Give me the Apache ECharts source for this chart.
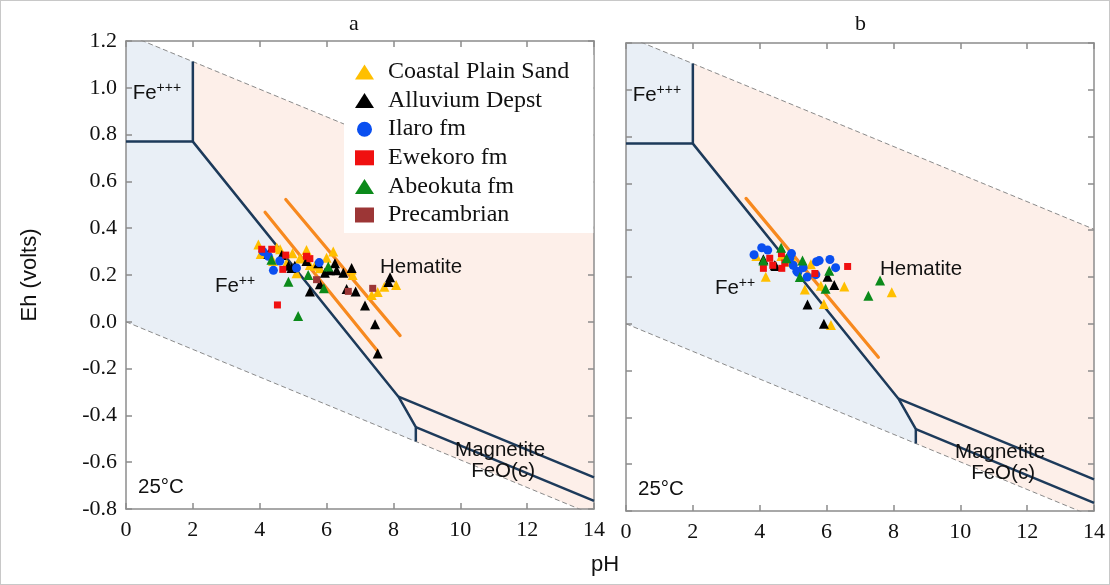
<!DOCTYPE html>
<html>
<head>
<meta charset="utf-8">
<title>Eh-pH diagram</title>
<script src="https://cdn.jsdelivr.net/npm/echarts@6/dist/echarts.min.js"></script>
<style>
  html, body { margin: 0; padding: 0; background: #fff; }
  #chart { width: 1110px; height: 585px; }
  #frame { position: absolute; left: 0; top: 0; width: 1108px; height: 583px; border: 1px solid #c8c8c8; pointer-events: none; }
</style>
</head>
<body>
<div id="chart"></div>
<div id="frame"></div>
<script>
// axis ticks
const phTicks = [0, 2, 4, 6, 8, 10, 12, 14];
const ehTicks = [-0.8, -0.6, -0.4, -0.2, 0.0, 0.2, 0.4, 0.6, 0.8, 1.0, 1.2];

// stability field boundaries [pH, Eh]
const waterUpper = [[0, 1.23], [14, 0.404]];
const waterLower = [[0, 0], [14, -0.826]];
const fe3Boundary = [[0, 0.77], [2, 0.77], [2, 1.112]];
const fe2Boundary = [[2, 0.77], [8.15, -0.32], [8.67, -0.45], [8.67, -0.512]];
const magnetiteUpper = [[8.15, -0.32], [14, -0.665]];
const magnetiteLower = [[8.67, -0.45], [14, -0.765]];

// shaded fields
const fe3Field = [[0, 0.77], [2, 0.77], [2, 1.112], [0.51, 1.2], [0, 1.2]];
const fe2Field = [[0, 0.77], [2, 0.77], [8.15, -0.32], [8.67, -0.45], [8.67, -0.512], [0, 0]];
const hematiteField = [[2, 1.112], [14, 0.404], [14, -0.665], [8.15, -0.32], [2, 0.77]];
const magnetiteField = [[8.15, -0.32], [14, -0.665], [14, -0.8], [13.56, -0.8], [8.67, -0.512], [8.67, -0.45]];

// orange trend lines
const trendA1 = [[4.16, 0.468], [7.52, -0.124]];
const trendA2 = [[4.78, 0.523], [8.2, -0.059]];
const trendB = [[3.59, 0.536], [7.55, -0.143]];

// panel a samples [pH, Eh]
const coastalA = [[3.96, 0.33], [4.03, 0.29], [4.4, 0.26], [4.51, 0.317], [4.61, 0.31], [4.8, 0.25], [4.98, 0.293],
  [5.1, 0.207], [5.2, 0.27], [5.4, 0.307], [5.5, 0.243], [5.65, 0.24], [5.8, 0.229], [6.0, 0.274], [6.2, 0.3],
  [6.75, 0.224], [6.78, 0.2], [7.35, 0.115], [7.53, 0.127], [7.73, 0.15], [8.08, 0.157]];
const alluviumA = [[4.26, 0.29], [4.66, 0.285], [4.86, 0.24], [4.95, 0.23], [5.05, 0.24], [5.4, 0.26], [5.5, 0.13],
  [5.75, 0.25], [5.8, 0.16], [5.95, 0.21], [6.1, 0.22], [6.25, 0.25], [6.3, 0.22], [6.5, 0.21], [6.75, 0.23],
  [6.6, 0.14], [6.87, 0.13], [7.15, 0.07], [7.45, -0.01], [7.53, -0.135], [7.85, 0.17], [7.9, 0.19]];
const ilaroA = [[4.1, 0.3], [4.26, 0.28], [4.41, 0.22], [4.6, 0.26], [5.1, 0.23], [5.78, 0.253]];
const ewekoroA = [[4.06, 0.31], [4.36, 0.31], [4.69, 0.224], [4.78, 0.285], [5.4, 0.28], [5.5, 0.27], [4.53, 0.072]];
const abeokutaA = [[4.35, 0.265], [4.86, 0.171], [5.15, 0.025], [5.45, 0.2], [5.92, 0.143], [6.05, 0.236]];
const precambrianA = [[5.7, 0.18], [6.65, 0.13], [7.38, 0.143]];

// panel b samples [pH, Eh]
const coastalB = [[3.9, 0.29], [4.18, 0.201], [4.65, 0.29], [4.8, 0.265], [4.9, 0.29], [5.0, 0.27], [5.35, 0.147],
  [5.53, 0.254], [5.83, 0.163], [5.92, 0.085], [6.13, -0.005], [6.53, 0.159], [7.95, 0.135]];
const alluviumB = [[4.11, 0.276], [4.45, 0.25], [4.48, 0.247], [5.43, 0.083], [5.92, 0.0], [6.03, 0.201], [6.23, 0.166]];
const ilaroB = [[3.83, 0.295], [4.06, 0.325], [4.24, 0.315], [4.9, 0.28], [4.95, 0.3], [5.0, 0.25], [5.11, 0.225],
  [5.14, 0.22], [5.3, 0.24], [5.42, 0.2], [5.68, 0.21], [5.7, 0.265], [5.78, 0.27], [6.1, 0.275], [6.27, 0.24]];
const ewekoroB = [[4.11, 0.237], [4.3, 0.28], [4.39, 0.25], [4.66, 0.237], [4.65, 0.3], [4.75, 0.26], [5.65, 0.215], [6.63, 0.245]];
const abeokutaB = [[4.11, 0.27], [4.64, 0.325], [4.8, 0.28], [5.2, 0.2], [5.28, 0.27], [5.97, 0.15], [6.08, 0.227], [7.25, 0.12], [7.6, 0.185]];
const precambrianB = [];

// field labels (same place in both panels)
const fieldLabels = [
  { text: '{b|Fe}{s|+++}', ph: 0.2, eh: 0.975, align: 'left' },
  { text: '{b|Fe}{s|++}', ph: 2.66, eh: 0.15, align: 'left' },
  { text: '{b|Hematite}', ph: 7.6, eh: 0.234, align: 'left' },
  { text: '{b|Magnetite}', ph: 11.19, eh: -0.548, align: 'center' },
  { text: '{b|FeO(c)}', ph: 11.28, eh: -0.638, align: 'center' },
  { text: '{b|25°C}', ph: 0.36, eh: -0.706, align: 'left' }
];

const SERIF = "'Liberation Serif', 'Times New Roman', serif";
const SANS = "'Liberation Sans', Arial, sans-serif";
const BLUE_FIELD = '#e9eff6';
const PEACH_FIELD = '#fdefe9';
const EDGE = '#1d3a5a';
const ORANGE = '#f7891f';

const groups = [
  { name: 'Coastal Plain Sand', symbol: 'triangle', size: 10, color: '#ffbf00', a: coastalA, b: coastalB },
  { name: 'Alluvium Depst', symbol: 'triangle', size: 10, color: '#000000', a: alluviumA, b: alluviumB },
  { name: 'Ilaro fm', symbol: 'circle', size: 9, color: '#0a4ff0', a: ilaroA, b: ilaroB },
  { name: 'Ewekoro fm', symbol: 'rect', size: 7, color: '#f01010', a: ewekoroA, b: ewekoroB },
  { name: 'Abeokuta fm', symbol: 'triangle', size: 10, color: '#0b8a1a', a: abeokutaA, b: abeokutaB },
  { name: 'Precambrian', symbol: 'rect', size: 7, color: '#9c3636', a: precambrianA, b: precambrianB }
];

function fieldSeries(points, color, g) {
  return {
    type: 'custom', xAxisIndex: g, yAxisIndex: g, data: [0], silent: true, z: 0, clip: true,
    renderItem: (params, api) => ({
      type: 'polygon',
      shape: { points: points.map(p => api.coord(p)) },
      style: { fill: color }
    })
  };
}

function lineSeries(points, g, style, z) {
  return {
    type: 'line', xAxisIndex: g, yAxisIndex: g, data: points, symbol: 'none',
    silent: true, clip: true, z: z, lineStyle: style
  };
}

function labelSeries(g) {
  return {
    type: 'custom', xAxisIndex: g, yAxisIndex: g, silent: true, z: 6,
    data: fieldLabels.map((l, i) => [l.ph, l.eh, i]),
    renderItem: (params, api) => {
      const l = fieldLabels[params.dataIndex];
      const pt = api.coord([api.value(0), api.value(1)]);
      return {
        type: 'text', x: pt[0], y: pt[1],
        style: {
          text: l.text, align: l.align, verticalAlign: 'middle', fill: '#111',
          rich: {
            b: { fontFamily: SANS, fontSize: 20.5, lineHeight: 26, color: '#111' },
            s: { fontFamily: SANS, fontSize: 14, lineHeight: 11, verticalAlign: 'top', color: '#111' }
          }
        }
      };
    }
  };
}

function panelSeries(g) {
  const dashed = { color: '#8a8a8a', width: 1, type: [5, 3] };
  const edge = { color: EDGE, width: 2.5 };
  const list = [
    fieldSeries(fe3Field, BLUE_FIELD, g),
    fieldSeries(fe2Field, BLUE_FIELD, g),
    fieldSeries(hematiteField, PEACH_FIELD, g),
    fieldSeries(magnetiteField, PEACH_FIELD, g),
    lineSeries(waterUpper, g, dashed, 1),
    lineSeries(waterLower, g, dashed, 1),
    lineSeries(fe3Boundary, g, edge, 2),
    lineSeries(fe2Boundary, g, edge, 2),
    lineSeries(magnetiteUpper, g, edge, 2),
    lineSeries(magnetiteLower, g, edge, 2)
  ];
  const trends = g === 0 ? [trendA1, trendA2] : [trendB];
  trends.forEach(t => list.push(lineSeries(t, g, { color: ORANGE, width: 3.2, cap: 'round' }, 3)));
  groups.forEach(s => {
    list.push({
      name: s.name, type: 'scatter', xAxisIndex: g, yAxisIndex: g,
      data: g === 0 ? s.a : s.b, symbol: s.symbol, symbolSize: s.size,
      itemStyle: { color: s.color, opacity: 1 }, z: 4
    });
  });
  list.push(labelSeries(g));
  return list;
}

const axisLine = { show: true, onZero: false, lineStyle: { color: '#8c8c8c', width: 1.5 } };
const axisTick = { show: true, inside: true, length: 6, lineStyle: { color: '#8c8c8c', width: 1.5 } };

function xAxis(g, pos, labels) {
  return {
    type: 'value', gridIndex: g, position: pos, min: phTicks[0], max: phTicks[phTicks.length - 1], interval: 2,
    axisLine, axisTick, splitLine: { show: false },
    axisLabel: { show: labels, fontFamily: SERIF, fontSize: 22, color: '#111', margin: 10 }
  };
}

function yAxis(g, pos, labels) {
  return {
    type: 'value', gridIndex: g, position: pos, min: ehTicks[0], max: ehTicks[ehTicks.length - 1], interval: 0.2,
    axisLine, axisTick, splitLine: { show: false },
    axisLabel: { show: labels, fontFamily: SERIF, fontSize: 22, color: '#111', margin: 9,
      formatter: v => v.toFixed(1) }
  };
}

const chart = echarts.init(document.getElementById('chart'));
chart.setOption({
  animation: false,
  backgroundColor: '#fff',
  grid: [
    { left: 126, top: 41, width: 468, height: 468 },
    { left: 626, top: 43, width: 468, height: 468 }
  ],
  xAxis: [xAxis(0, 'bottom', true), xAxis(1, 'bottom', true), xAxis(0, 'top', false), xAxis(1, 'top', false)],
  yAxis: [yAxis(0, 'left', true), yAxis(1, 'left', false), yAxis(0, 'right', false), yAxis(1, 'right', false)],
  legend: {
    orient: 'vertical', left: 344, top: 55, z: 10,
    backgroundColor: '#fff', padding: [5, 24, 6, 11],
    itemWidth: 19, itemHeight: 15, itemGap: 4.6,
    textStyle: { fontFamily: SERIF, fontSize: 24, color: '#111', padding: [0, 0, 0, 9] },
    data: groups.map(s => ({ name: s.name, icon: s.symbol }))
  },
  graphic: [
    { type: 'text', left: 349, top: 13, style: { text: 'a', font: "22px " + SERIF, fill: '#111' } },
    { type: 'text', left: 855, top: 13, style: { text: 'b', font: "22px " + SERIF, fill: '#111' } },
    { type: 'text', x: 30, y: 275, rotation: Math.PI / 2, style: { text: 'Eh (volts)', font: "22px " + SANS, fill: '#111', align: 'center', verticalAlign: 'middle' } },
    { type: 'text', x: 605, y: 565, style: { text: 'pH', font: "22px " + SANS, fill: '#111', align: 'center', verticalAlign: 'middle' } }
  ],
  series: [...panelSeries(0), ...panelSeries(1)]
});
</script>
</body>
</html>
